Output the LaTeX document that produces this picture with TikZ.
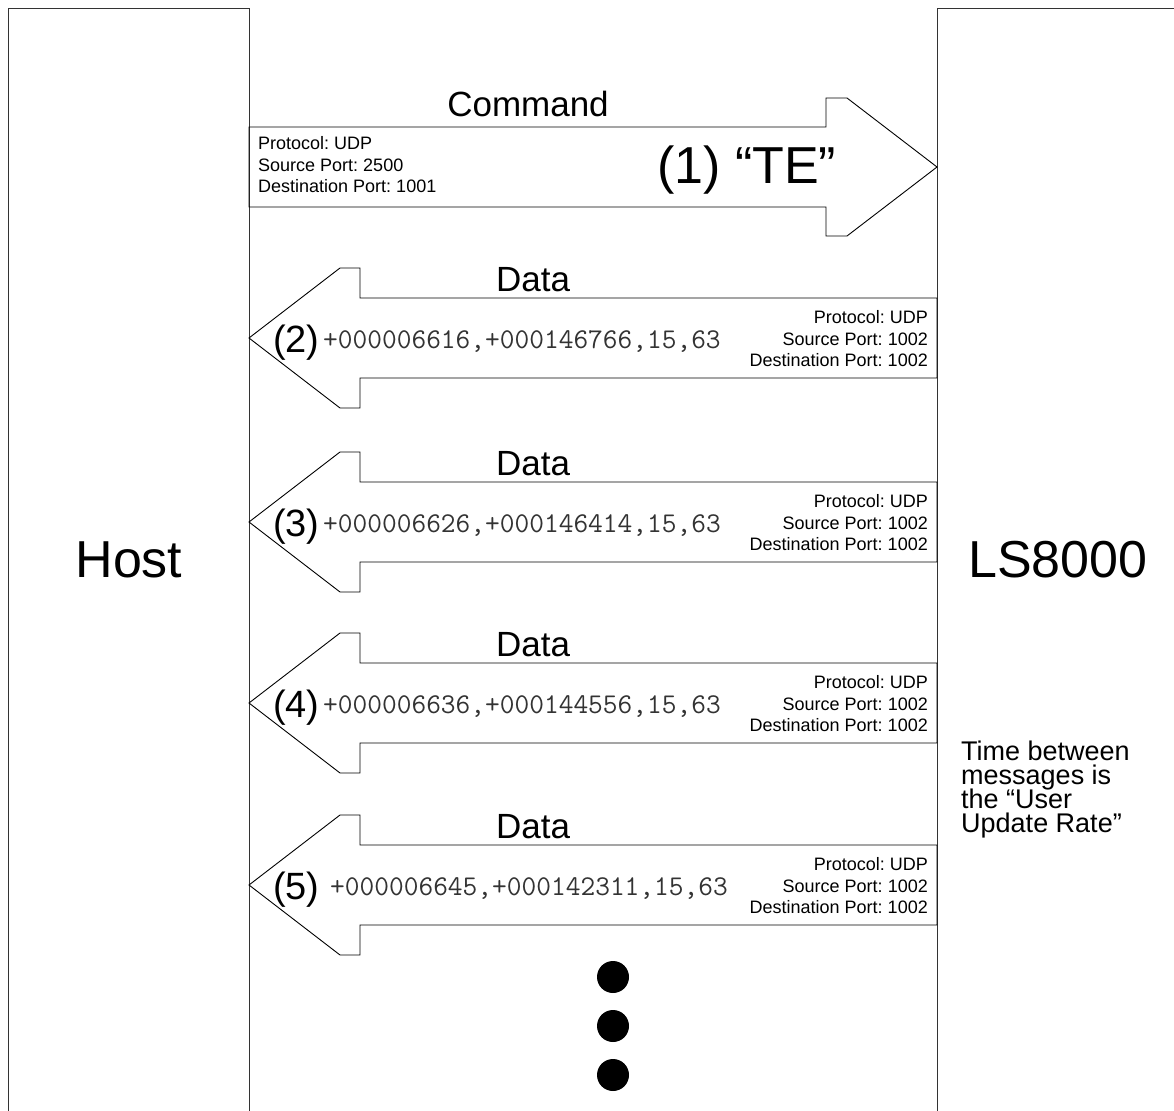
\documentclass[tikz,border=0pt]{standalone}
\usepackage{fontspec}
\setmainfont{Liberation Sans}
\usetikzlibrary{positioning}
\lineskiplimit=-100pt
\frenchspacing
\tikzset{
  lane/.style={
    draw=black!80, line width=1.4pt, anchor=north west,
    minimum width=241pt, minimum height=1140pt, inner sep=0pt
  },
  lanelabel/.style={anchor=base, inner sep=0pt, font=\fontsize{52}{60}\selectfont},
  msg/.style={draw, line width=0.9pt},
  msgtitle/.style={anchor=base, inner sep=0pt, font=\fontsize{35}{42}\selectfont},
  seqnum/.style={anchor=base west, inner sep=0pt, font=\fontsize{38}{44}\selectfont},
  payload/.style={anchor=base west, inner sep=0pt, text=black!80, font=\fontsize{28.6}{32}\ttfamily},
  portinfo/.style={inner sep=0pt, font=\fontsize{18}{21.5}\selectfont},
  note/.style={
    anchor=north west, inner sep=0pt, align=left,
    font=\fontsize{27}{24}\selectfont
  },
  dot/.style={circle, fill=black, minimum size=32pt, inner sep=0pt},
  dataarrow/.pic={
    \draw[msg] (0,0) -- ++(91,-70) -- ++(20,0) -- ++(0,30) -- ++(577,0)
      -- ++(0,80) -- ++(-577,0) -- ++(0,30) -- ++(-20,0) -- cycle;
  }
}

\begin{document}
\begin{tikzpicture}[x=1pt, y=-1pt]
  \useasboundingbox (0,0) rectangle (1174,1110);
  \fill[white] (0,0) rectangle (1174,1110);
  \clip (0,0) rectangle (1174,1110);

  \node[lane] (host) at (8,8) {};
  \node[lane] (ls) at (937,8) {};
  \node[lanelabel] (hostlbl) at (129,577) {Host};
  \node[lanelabel] (lslbl) at (1058,577) {LS8000};

  \draw[msg] (249,127) -- (826,127) -- (826,98) -- (847,98) -- (937,167)
    -- (847,236) -- (826,236) -- (826,207) -- (249,207) -- cycle;
  \node[msgtitle] (cmd) at (528,117) {Command};
  \node[anchor=base west, inner sep=0pt, font=\fontsize{52}{60}\selectfont] (te) at (657,183) {(1) “TE”};
  \node[portinfo, anchor=west, align=left] (cmdport) at (258,165) {Protocol: UDP\\Source Port: 2500\\Destination Port: 1001};

  \pic at (249,338) {dataarrow};
  \node[msgtitle] (data2) at (533,291) {Data};
  \node[seqnum] (seq2) at (273,352) {(2)};
  \node[payload] (val2) at (323,348) {+000006616,+000146766,15,63};
  \node[portinfo, anchor=east, align=right] (port2) at (928,339) {Protocol: UDP\\Source Port: 1002\\Destination Port: 1002};

  \pic at (249,522) {dataarrow};
  \node[msgtitle] (data3) at (533,475) {Data};
  \node[seqnum] (seq3) at (273,536) {(3)};
  \node[payload] (val3) at (323,532) {+000006626,+000146414,15,63};
  \node[portinfo, anchor=east, align=right] (port3) at (928,523) {Protocol: UDP\\Source Port: 1002\\Destination Port: 1002};

  \pic at (249,703) {dataarrow};
  \node[msgtitle] (data4) at (533,656) {Data};
  \node[seqnum] (seq4) at (273,717) {(4)};
  \node[payload] (val4) at (323,713) {+000006636,+000144556,15,63};
  \node[portinfo, anchor=east, align=right] (port4) at (928,704) {Protocol: UDP\\Source Port: 1002\\Destination Port: 1002};

  \pic at (249,885) {dataarrow};
  \node[msgtitle] (data5) at (533,838) {Data};
  \node[seqnum] (seq5) at (273,899) {(5)};
  \node[payload] (val5) at (330,895) {+000006645,+000142311,15,63};
  \node[portinfo, anchor=east, align=right] (port5) at (928,886) {Protocol: UDP\\Source Port: 1002\\Destination Port: 1002};

  \node[note] (rate) at (961,741) {Time between\\messages is\\the “User\\Update Rate”};

  \node[dot] (more1) at (613,977) {};
  \node[dot] (more2) at (613,1026) {};
  \node[dot] (more3) at (613,1075) {};
\end{tikzpicture}
\end{document}
